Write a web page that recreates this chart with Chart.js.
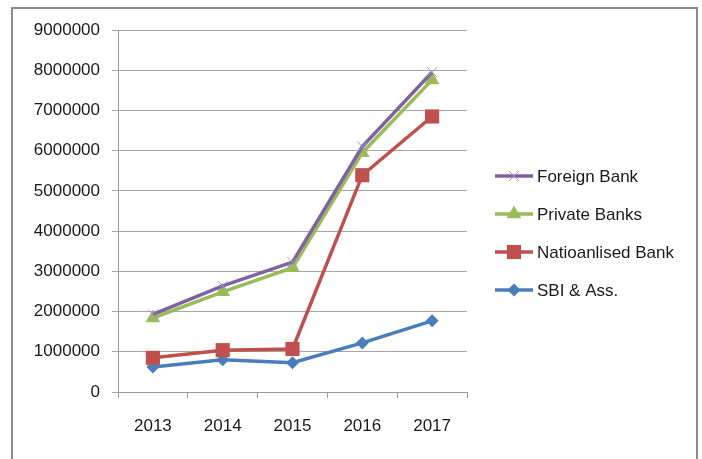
<!DOCTYPE html>
<html>
<head>
<meta charset="utf-8">
<script src="https://cdn.jsdelivr.net/npm/chart.js@4/dist/chart.umd.min.js"></script>
<style>
  body { margin: 0; background: #fff; }
  #wrap { position: relative; width: 702px; height: 459px; }
  #frame {
    position: absolute; left: 11px; top: 7px; width: 683px; height: 452px;
    border-left: 2px solid #8a8a8a; border-top: 2px solid #8a8a8a; border-right: 2px solid #8a8a8a;
  }
  canvas { position: absolute; left: 0; top: 0; }
</style>
</head>
<body>
<div id="wrap">
  <div id="frame"></div>
  <canvas id="bankChart" width="702" height="459"></canvas>
</div>
<script>
// data
const years = ["2013", "2014", "2015", "2016", "2017"];
const foreignBank = [1930000, 2640000, 3230000, 6100000, 7950000];
const privateBanks = [1840000, 2490000, 3090000, 5950000, 7760000];
const nationalisedBank = [850000, 1040000, 1070000, 5390000, 6850000];
const sbiAss = [620000, 800000, 730000, 1220000, 1770000];
const yTicks = [0, 1000000, 2000000, 3000000, 4000000, 5000000, 6000000, 7000000, 8000000, 9000000];

const labelFont = { family: "'Liberation Sans', Arial, sans-serif", size: 17 };

// legend on the right: a short line with the marker on it, like excel does
const sideLegend = {
    id: "sideLegend",
    afterDraw(chart) {
        const ctx = chart.ctx;
        const x0 = chart.chartArea.right + 28;
        const x1 = x0 + 38;
        let y = 176;
        chart.data.datasets.forEach(ds => {
            ctx.save();
            ctx.strokeStyle = ds.borderColor;
            ctx.lineWidth = ds.borderWidth;
            ctx.beginPath();
            ctx.moveTo(x0, y);
            ctx.lineTo(x1, y);
            ctx.stroke();
            ctx.fillStyle = ds.pointBackgroundColor;
            ctx.strokeStyle = ds.pointBorderColor;
            ctx.lineWidth = ds.pointBorderWidth;
            Chart.helpers.drawPoint(ctx, {
                pointStyle: ds.pointStyle,
                radius: ds.pointRadius,
                rotation: 0,
                borderWidth: ds.pointBorderWidth
            }, (x0 + x1) / 2, y);
            ctx.fillStyle = "#1a1a1a";
            ctx.font = "17px 'Liberation Sans', Arial, sans-serif";
            ctx.textBaseline = "middle";
            ctx.fillText(ds.label, x1 + 4, y + 1);
            ctx.restore();
            y += 38;
        });
    }
};

new Chart("bankChart", {
    type: "line",
    data: {
        labels: years,
        datasets: [
            {
                label: "Foreign Bank",
                data: foreignBank,
                borderColor: "#7f63a1",
                borderWidth: 3.5,
                pointStyle: "crossRot",
                pointRadius: 7,
                pointBorderWidth: 1,
                pointBorderColor: "#a290c8",
                pointBackgroundColor: "#a290c8",
            },
            {
                label: "Private Banks",
                data: privateBanks,
                borderColor: "#9bbb59",
                borderWidth: 3.5,
                pointStyle: "triangle",
                pointRadius: 8.5,
                pointBorderWidth: 0,
                pointBorderColor: "#9bbb59",
                pointBackgroundColor: "#9bbb59",
            },
            {
                label: "Natioanlised Bank",
                data: nationalisedBank,
                borderColor: "#c0504d",
                borderWidth: 3.5,
                pointStyle: "rect",
                pointRadius: 10,
                pointBorderWidth: 0,
                pointBorderColor: "#c0504d",
                pointBackgroundColor: "#c0504d",
            },
            {
                label: "SBI & Ass.",
                data: sbiAss,
                borderColor: "#4a7ebb",
                borderWidth: 3.5,
                pointStyle: "rectRot",
                pointRadius: 6.5,
                pointBorderWidth: 0,
                pointBorderColor: "#4a7ebb",
                pointBackgroundColor: "#4a7ebb",
            },
        ]
    },
    options: {
        responsive: false,
        animation: false,
        layout: { padding: { top: 30, right: 235, left: 0, bottom: 0 } },
        plugins: {
            legend: { display: false },
            tooltip: { enabled: false }
        },
        scales: {
            x: {
                offset: true,
                grid: {
                    offset: true,
                    drawOnChartArea: false,
                    tickLength: 6,
                    color: "#9a9a9a"
                },
                border: { color: "#9a9a9a" },
                ticks: { font: labelFont, color: "#1a1a1a", padding: 18, maxRotation: 0 },
                afterFit: scale => { scale.height = 67; }
            },
            y: {
                min: 0,
                max: 9000000,
                afterBuildTicks: scale => { scale.ticks = yTicks.map(v => ({ value: v })); },
                grid: { color: "#a6a6a6", tickLength: 6 },
                border: { color: "#9a9a9a" },
                ticks: {
                    font: labelFont,
                    color: "#1a1a1a",
                    padding: 12,
                    callback: v => String(v)
                },
                afterFit: scale => { scale.width = 118; }
            }
        }
    },
    plugins: [sideLegend]
});
</script>
</body>
</html>
